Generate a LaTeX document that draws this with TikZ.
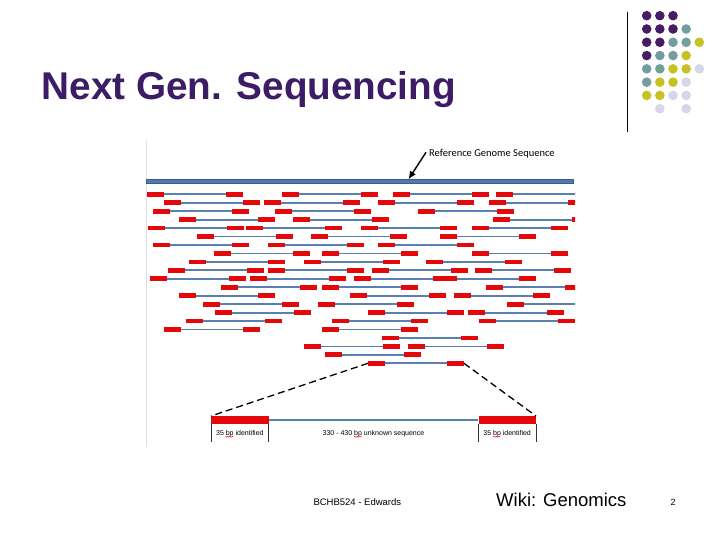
\documentclass[tikz,border=0pt]{standalone}
\usepackage{fontspec}
\setmainfont{Liberation Sans}
\newfontfamily\calibrifont{Carlito}
\usetikzlibrary{arrows.meta,calc,decorations.pathmorphing}
\definecolor{titlepurple}{RGB}{60,28,100}
\definecolor{dotP}{RGB}{72,28,100}
\definecolor{dotT}{RGB}{115,158,160}
\definecolor{dotY}{RGB}{198,194,38}
\definecolor{dotL}{RGB}{214,214,232}
\definecolor{readred}{RGB}{228,8,10}
\definecolor{readblue}{RGB}{88,128,176}
\definecolor{refblue}{RGB}{82,122,170}
\definecolor{refedge}{RGB}{58,92,136}
\tikzset{
  readend/.style={fill=readred},
  readlink/.style={draw=readblue, line width=1.8pt},
  zoomline/.style={line width=1.3pt, dash pattern=on 7pt off 4pt},
  idbox/.style={fill=readred, minimum width=57.3pt, minimum height=7.4pt, inner sep=0pt},
  idtext/.style={font=\fontsize{7}{8}\selectfont, inner sep=0pt, anchor=base},
  spell/.style={draw=red, line width=0.35pt, decorate,
    decoration={snake, amplitude=0.45pt, segment length=1.6pt}},
  dot/.style={circle, inner sep=0pt, minimum size=9.6pt}
}

\begin{document}
\begin{tikzpicture}[x=1pt, y=-1pt]
\useasboundingbox[fill=white] (0,0) rectangle (720,540);

% title
\node[anchor=base west, inner sep=0pt, text=titlepurple,
      font=\bfseries\fontsize{38.7}{46}\selectfont] (title) at (41.5,100) {Next Gen. Sequencing};

% corner ornament
\draw[line width=1pt] (627.3,12) -- (627.3,132);
\foreach \r/\list in {0/{0/P,1/P,2/P},1/{0/P,1/P,2/P,3/T},2/{0/P,1/P,2/T,3/T,4/Y},
    3/{0/P,1/T,2/T,3/Y},4/{0/T,1/T,2/Y,3/Y,4/L},5/{0/T,1/Y,2/Y,3/L},
    6/{0/Y,1/Y,2/L,3/L},7/{1/L,3/L}}
  \foreach \k/\c in \list
    \node[dot, fill=dot\c] (dot-\r-\k) at (646.7+13.15*\k, 15.7+13.29*\r) {};

% figure frame
\draw[black!12, line width=0.5pt] (146,140) -- (146,447);

% reference genome
\fill[refblue, draw=refedge, line width=0.6pt] (146.7,179.6) rectangle (573.3,183.8);
\coordinate (refpt) at (408.5,179.3);
\node[anchor=west, inner sep=0pt, font=\calibrifont\fontsize{10.5}{12}\selectfont]
      (reflabel) at (429,153.3) {Reference Genome Sequence};
\draw[-{Latex[length=8pt,width=7pt]}, line width=1.4pt] ([xshift=-3pt,yshift=1pt]reflabel.west) -- (refpt);

% paired reads
\begin{scope}
\clip (146,150) rectangle (575,370);
\foreach \r/\starts in {1/{146.7,282,393.3,496},2/{164,264.3,378.3,489.3},
    3/{153.3,275,418},4/{179,292.7,492.7},5/{147.7,246,361,472},
    6/{196.7,311,439.7},7/{153.3,267.7,378.3},8/{214.3,321.7,472},
    9/{189.3,304.3,425.7},10/{168,267.7,371.7,475},11/{150,249.7,354,440},
    12/{221.3,321.7,486},13/{179,350,454},14/{203.3,318,506.7},
    15/{214.7,368.3,468},16/{185.7,332.3,478.7},17/{164,322},18/{382},
    19/{304.3,407.7},20/{325},21/{368}}
  \foreach \s in \starts {
    \pgfmathsetmacro\yy{194.3+8.45*(\r-1)}
    \draw[readlink] (\s+17,\yy) -- (\s+79,\yy);
    \fill[readend] (\s,\yy-2.4) rectangle ++(17,4.8);
    \fill[readend] (\s+79,\yy-2.4) rectangle ++(17,4.8);
  }
\end{scope}
\coordinate (gapL) at (368,363.3);
\coordinate (gapR) at (464,363.3);

% zoomed read
\node[idbox, anchor=north west] (idL) at (211,416) {};
\node[idbox, anchor=north west] (idR) at (478.3,416) {};
\draw[readblue, line width=1.3pt] (idL.east) -- (idR.west);
\foreach \a in {idL.south west,idL.south east,idR.south west,idR.south east}
  \draw[black!80, line width=0.6pt] (\a) -- ++(0,18.5);
\node[idtext] (lblL) at ($(idL.south)+(0,11.3)$) {35 bp identified};
\node[idtext] (lblR) at ($(idR.south)+(0,11.3)$) {35 bp identified};
\node[idtext] (lblM) at ($(idL.south east)!0.5!(idR.south west)+(0,11.3)$) {330 - 430 bp unknown sequence};
\draw[spell] ($(lblL.base west)+(9.7,1.7)$) -- ++(7.8,0);
\draw[spell] ($(lblR.base west)+(9.7,1.7)$) -- ++(7.8,0);
\draw[spell] ($(lblM.base west)+(31.5,1.7)$) -- ++(7.8,0);

\draw[zoomline] (gapL) -- (idL.north west);
\draw[zoomline] (gapR) -- (idR.north east);

% footer
\node[anchor=base west, inner sep=0pt, font=\fontsize{9.5}{11}\selectfont] (foot) at (313.3,505.3) {BCHB524 - Edwards};
\node[anchor=base west, inner sep=0pt, font=\fontsize{18.5}{21}\selectfont] (wiki) at (496,506.7) {Wiki: Genomics};
\node[anchor=base, inner sep=0pt, font=\fontsize{9}{10}\selectfont] (pageno) at (673,505.3) {2};
\end{tikzpicture}
\end{document}
